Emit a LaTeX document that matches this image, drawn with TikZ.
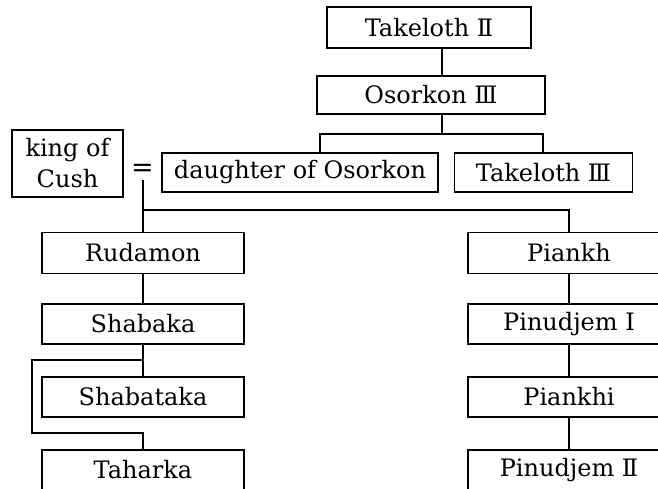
\documentclass[tikz,border=0pt]{standalone}
\usepackage{fontspec}
\setmainfont{DejaVu Serif}
\begin{document}
\begin{tikzpicture}[x=1pt,y=-1pt,
  box/.style={draw, line width=1.5pt, inner sep=0pt, minimum width=#1, font=\fontsize{24}{28}\selectfont},
  box/.default=202pt,
  conn/.style={line width=1.4pt},
  lbl/.style={inner sep=0pt, font=\fontsize{27}{30}\selectfont}]
\useasboundingbox (0,0) rectangle (658,489);
\clip (0,0) rectangle (658,489);
% top family
\node[box=204pt, minimum height=41pt] (t2) at (429,27.5) {Takeloth Ⅱ};
\node[box=228pt, minimum height=38pt] (o3) at (431,95) {Osorkon Ⅲ};
\node[box=276pt, minimum height=39pt] (dau) at (300,172.5) {daughter of Osorkon};
\node[box=178pt, minimum height=39pt] (t3) at (543.5,172.5) {Takeloth Ⅲ};
\node[box=111pt, minimum height=67pt, align=center, font=\fontsize{24}{31}\selectfont] (koc) at (67.5,163.5) {king of\\Cush};
\node[lbl] (eq) at (142.5,170.5) {=};
% left column
\node[box, minimum height=41pt] (rud) at (143,253) {Rudamon};
\node[box, minimum height=40pt] (sbk) at (143,324) {Shabaka};
\node[box, minimum height=40pt] (sbt) at (143,397) {Shabataka};
\node[box, minimum height=40pt] (tah) at (143,470) {Taharka};
% right column
\node[box, minimum height=41pt] (pia) at (569,253) {Piankh};
\node[box, minimum height=40pt] (pi1) at (569,324) {Pinudjem I};
\node[box, minimum height=40pt] (pki) at (569,397) {Piankhi};
\node[box, minimum height=40pt] (pi2) at (569,470) {Pinudjem Ⅱ};
% helper coordinates
\coordinate (cx) at (442,0);
\coordinate (br) at (442,134);
\coordinate (bl) at (320,134);
\coordinate (brr) at (543,134);
\coordinate (eqb) at (143,180);
\coordinate (j1) at (143,210);
\coordinate (j2) at (569,210);
\coordinate (l1) at (143,360);
\coordinate (l2) at (32,360);
\coordinate (l3) at (32,433);
\coordinate (l4) at (143,433);
% connectors
\draw[conn] (cx |- t2.south) -- (cx |- o3.north);
\draw[conn] (cx |- o3.south) -- (br);
\draw[conn] (bl |- dau.north) -- (bl) -- (brr) -- (brr |- t3.north);
\draw[conn] (eqb) -- (j1) -- (j2) -- (pia.north);
\draw[conn] (j1) -- (rud.north);
\draw[conn] (rud.south) -- (sbk.north);
\draw[conn] (sbk.south) -- (sbt.north);
\draw[conn] (l1) -- (l2) -- (l3) -- (l4) -- (tah.north);
\draw[conn] (pia.south) -- (pi1.north);
\draw[conn] (pi1.south) -- (pki.north);
\draw[conn] (pki.south) -- (pi2.north);
\end{tikzpicture}
\end{document}
